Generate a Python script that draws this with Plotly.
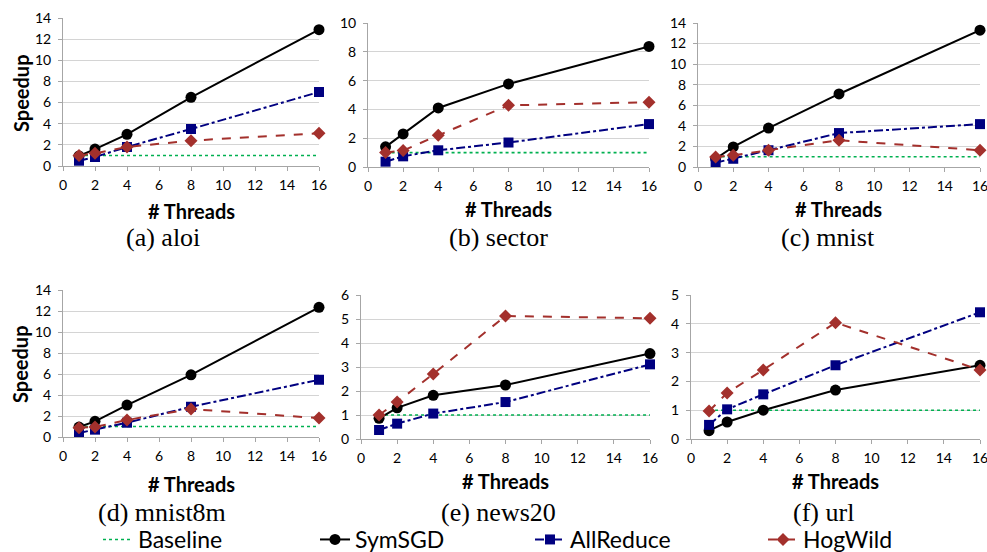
import plotly.graph_objects as go

# ---------------- data ----------------
threads = [1, 2, 4, 8, 16]
baseline_x = [1, 16]
baseline_y = [1, 1]

datasets = ["aloi", "sector", "mnist", "mnist8m", "news20", "url"]
captions = ["(a) aloi", "(b) sector", "(c) mnist", "(d) mnist8m", "(e) news20", "(f) url"]
series_names = ["Baseline", "SymSGD", "AllReduce", "HogWild"]

aloi_symsgd = [0.95, 1.6, 3.0, 6.5, 12.9]
aloi_allreduce = [0.5, 0.85, 1.8, 3.5, 7.0]
aloi_hogwild = [1.0, 1.2, 1.8, 2.4, 3.1]

sector_symsgd = [1.4, 2.3, 4.1, 5.77, 8.37]
sector_allreduce = [0.37, 0.74, 1.16, 1.7, 2.98]
sector_hogwild = [1.0, 1.14, 2.2, 4.28, 4.5]

mnist_symsgd = [0.8, 1.95, 3.78, 7.1, 13.3]
mnist_allreduce = [0.42, 0.8, 1.63, 3.3, 4.17]
mnist_hogwild = [0.98, 1.14, 1.63, 2.6, 1.63]

mnist8m_symsgd = [0.95, 1.49, 3.04, 5.92, 12.35]
mnist8m_allreduce = [0.38, 0.7, 1.36, 2.88, 5.45]
mnist8m_hogwild = [0.89, 0.95, 1.62, 2.66, 1.8]

news20_symsgd = [0.86, 1.3, 1.82, 2.25, 3.56]
news20_allreduce = [0.375, 0.64, 1.06, 1.54, 3.11]
news20_hogwild = [1.0, 1.54, 2.71, 5.125, 5.03]

url_symsgd = [0.29, 0.59, 1.0, 1.7, 2.56]
url_allreduce = [0.49, 1.03, 1.55, 2.56, 4.4]
url_hogwild = [0.97, 1.6, 2.4, 4.04, 2.4]

symsgd_all = [aloi_symsgd, sector_symsgd, mnist_symsgd, mnist8m_symsgd, news20_symsgd, url_symsgd]
allreduce_all = [aloi_allreduce, sector_allreduce, mnist_allreduce, mnist8m_allreduce, news20_allreduce, url_allreduce]
hogwild_all = [aloi_hogwild, sector_hogwild, mnist_hogwild, mnist8m_hogwild, news20_hogwild, url_hogwild]

y_max = [14, 10, 14, 14, 6, 5]
y_step = [2, 2, 2, 2, 1, 1]
x_ticks = [0, 2, 4, 6, 8, 10, 12, 14, 16]

# ---------------- layout geometry (pixels) ----------------
W, H = 987, 552
# (left, right, top, bottom) of each plot area
boxes = [
    (63, 319, 18, 166),
    (368, 649, 23, 167),
    (698, 980, 23, 167),
    (63, 319, 290, 437),
    (361, 650, 295, 439),
    (691, 980, 295, 439),
]
xtitle_pos = [(191, 211), (508, 209), (838, 209), (191, 484), (505, 481), (835, 481)]
caption_pos = [(163, 237), (498, 237), (828, 237), (162, 512), (498, 512), (823, 512)]
ytitle_pos = {0: (21, 93), 3: (20, 364)}
legend_x = [98, 315, 530, 763]
legend_bottom = 561


def px(x):
    return x / W


def py(y):
    return 1 - y / H


SANS = "Lato, 'Open Sans', sans-serif"
SERIF = "'Liberation Serif', 'Times New Roman', serif"
GREEN = "#00B050"
BLACK = "#000000"
NAVY = "#000080"
RED = "#A3302C"

fig = go.Figure()
legends = ["legend", "legend2", "legend3", "legend4"]

for i in range(6):
    sfx = "" if i == 0 else str(i + 1)
    xa, ya = "x" + sfx, "y" + sfx
    first = i == 0
    fig.add_trace(go.Scatter(
        x=baseline_x, y=baseline_y, mode="lines", name=series_names[0],
        line=dict(color=GREEN, width=1.6, dash="dot"),
        xaxis=xa, yaxis=ya, showlegend=first, legend=legends[0], cliponaxis=False))
    fig.add_trace(go.Scatter(
        x=threads, y=symsgd_all[i], mode="lines+markers", name=series_names[1],
        line=dict(color=BLACK, width=2),
        marker=dict(symbol="circle", size=11, color=BLACK),
        xaxis=xa, yaxis=ya, showlegend=first, legend=legends[1], cliponaxis=False))
    fig.add_trace(go.Scatter(
        x=threads, y=allreduce_all[i], mode="lines+markers", name=series_names[2],
        line=dict(color=NAVY, width=2, dash="dashdot"),
        marker=dict(symbol="square", size=10, color=NAVY),
        xaxis=xa, yaxis=ya, showlegend=first, legend=legends[2], cliponaxis=False))
    fig.add_trace(go.Scatter(
        x=threads, y=hogwild_all[i], mode="lines+markers", name=series_names[3],
        line=dict(color=RED, width=2, dash="dash"),
        marker=dict(symbol="diamond", size=10, color=RED),
        xaxis=xa, yaxis=ya, showlegend=first, legend=legends[3], cliponaxis=False))

layout = dict(
    template="none",
    width=W, height=H, autosize=False,
    margin=dict(l=0, r=0, t=0, b=0, autoexpand=False),
    paper_bgcolor="white", plot_bgcolor="white",
    font=dict(family=SANS, color="black"),
    hovermode=False,
)

for i, (l, r, t, b) in enumerate(boxes):
    sfx = "" if i == 0 else str(i + 1)
    layout["xaxis" + sfx] = dict(
        domain=[px(l), px(r)], range=[0, 16], tickmode="array", tickvals=x_ticks,
        anchor="y" + sfx, showgrid=False, zeroline=False, automargin=False,
        showline=True, linecolor="#A6A6A6", linewidth=1,
        ticks="outside", ticklen=4, tickcolor="#A6A6A6",
        tickfont=dict(family=SANS, size=14, color="black"),
        ticklabeloverflow="allow", ticklabelstandoff=2,
        fixedrange=True,
    )
    layout["yaxis" + sfx] = dict(
        domain=[py(b), py(t)], range=[0, y_max[i]], dtick=y_step[i], tick0=0,
        tickmode="linear",
        anchor="x" + sfx, showgrid=True, gridcolor="#D4D4D4", gridwidth=1,
        zeroline=False, showline=True, linecolor="#A6A6A6", linewidth=1,
        automargin=False,
        ticks="outside", ticklen=4, tickcolor="#A6A6A6",
        tickfont=dict(family=SANS, size=14, color="black"),
        ticklabeloverflow="allow", ticklabelstandoff=4,
        fixedrange=True,
    )

for k, lx in enumerate(legend_x):
    layout[legends[k]] = dict(
        x=px(lx), y=py(legend_bottom), xanchor="left", yanchor="bottom",
        orientation="h", bgcolor="rgba(0,0,0,0)", borderwidth=0,
        font=dict(family=SANS, size=23, color="black"),
        itemwidth=30, tracegroupgap=0,
    )

annotations = []
for i in range(6):
    tx, ty = xtitle_pos[i]
    annotations.append(dict(
        x=px(tx), y=py(ty), xref="paper", yref="paper", text="<b># Threads</b>",
        showarrow=False, xanchor="center", yanchor="middle",
        font=dict(family=SANS, size=20, color="black")))
    cx, cy = caption_pos[i]
    annotations.append(dict(
        x=px(cx), y=py(cy), xref="paper", yref="paper", text=captions[i],
        showarrow=False, xanchor="center", yanchor="middle",
        font=dict(family=SERIF, size=26, color="black")))
for i, (sx, sy) in ytitle_pos.items():
    annotations.append(dict(
        x=px(sx), y=py(sy), xref="paper", yref="paper", text="<b>Speedup</b>",
        showarrow=False, xanchor="center", yanchor="middle", textangle=-90,
        font=dict(family=SANS, size=20, color="black")))

layout["annotations"] = annotations
fig.update_layout(**layout)

fig.write_html(
    "out.html",
    config={"displayModeBar": False},
    post_script="document.body.style.margin='0';document.body.style.overflow='hidden';",
)
